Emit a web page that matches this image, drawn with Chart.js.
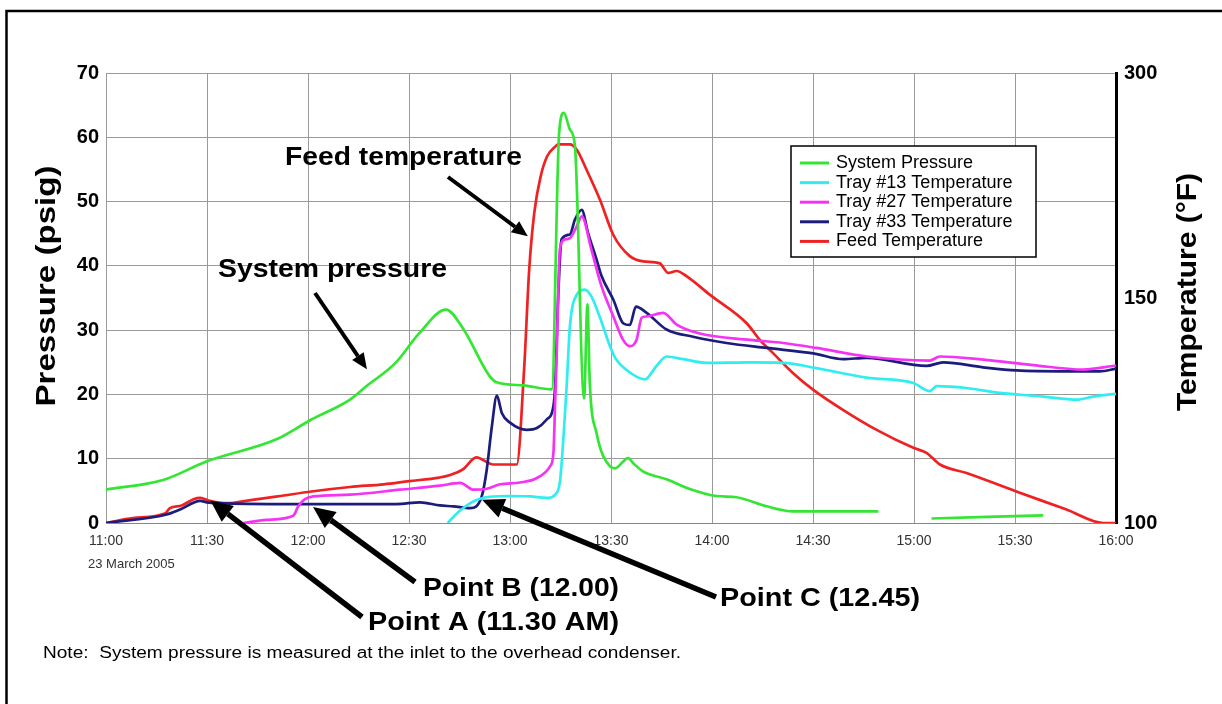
<!DOCTYPE html>
<html>
<head>
<meta charset="utf-8">
<script src="https://cdn.jsdelivr.net/npm/chart.js@4.4.1/dist/chart.umd.min.js"></script>
<style>
  body { margin: 0; background: #fff; }
  #wrap { width: 1222px; height: 704px; }
</style>
</head>
<body>
<div id="wrap"><canvas id="myChart" width="1222" height="704"></canvas></div>
<script>
// minutes after 11:00, 23 March 2005
const timeLabels = ['11:00', '11:30', '12:00', '12:30', '13:00', '13:30', '14:00', '14:30', '15:00', '15:30', '16:00']
const tempTicks = [100, 150, 300]

// System pressure, psig
const pressureMin = [0, 17, 30, 51, 61, 72.5, 77.4, 86, 93, 101, 106, 114, 116, 124, 132.4, 134.6, 136, 137.8, 139.3, 142, 143, 143.7, 145.7, 149.7, 151.2, 155.1, 156.6, 159.6, 166.5, 173.4, 181.3, 187.3, 196.2, 204.1, 229.4, 237, 245.2, 278.4]
const pressurePsig = [5.2, 6.7, 9.6, 13.1, 16.1, 19.2, 21.3, 24.9, 29.5, 33.2, 30.3, 22.8, 21.9, 21.4, 20.8, 60.7, 63.8, 61.2, 58.6, 19.4, 34.0, 21.8, 14.0, 8.8, 8.5, 10.1, 9.3, 8.0, 6.8, 5.3, 4.2, 4.0, 2.6, 1.8, 1.8, null, 0.7, 1.2]

// Tray #13 temperature, F
const tray13Min = [101.5, 104.2, 108.2, 112.1, 119, 126, 130.9, 133.9, 134.9, 135.9, 136.8, 137.8, 139.8, 142.2, 144.2, 146.7, 149.7, 151.5, 154.6, 160.1, 163.5, 166.5, 171.5, 178.4, 191.3, 201.2, 211, 225.9, 239.8, 244.7, 246.7, 255.6, 265.5, 278.4, 288.3, 293.2, 300]
const tray13F = [100, 102.1, 104.4, 105.6, 106.0, 105.9, 105.6, 106.7, 109.6, 119.3, 130.0, 143.7, 152.1, 155.6, 150.9, 145.7, 139.3, 136.4, 134.0, 131.9, 134.9, 137.0, 136.4, 135.6, 135.7, 135.6, 134.4, 132.3, 131.1, 129.3, 130.4, 130.0, 128.9, 128.1, 127.4, 128.1, 128.7]

// Tray #27 temperature, F
const tray27Min = [40.8, 47.7, 55.6, 57.1, 59.1, 61.6, 72.5, 87.3, 99.2, 105.2, 109.2, 113.1, 117.1, 123, 128, 131.9, 132.9, 133.4, 133.9, 134.8, 136.3, 137.8, 139.8, 141.3, 144.2, 147.2, 150.7, 153.6, 155.6, 157.6, 159.1, 160.6, 165.5, 169.5, 176.4, 191.3, 201.2, 211, 225.9, 244.7, 247.7, 260.5, 275.4, 290.2, 300]
const tray27F = [100, 100.7, 101.6, 103.7, 105.3, 105.9, 106.3, 107.4, 108.3, 108.9, 107.4, 107.6, 108.6, 109.0, 110.0, 112.6, 115.6, 126.7, 138.6, 182.1, 189.0, 189.9, 197.6, 204.4, 182.1, 157.7, 145.9, 140.7, 139.3, 140.7, 145.6, 145.9, 146.7, 144.1, 142.1, 140.7, 140.0, 138.9, 137.0, 136.1, 137.0, 136.3, 135.1, 134.1, 135.0]

// Tray #33 temperature, F
const tray33Min = [0, 18, 22, 28, 30, 38, 57.6, 86.3, 93.3, 99.2, 103.2, 108.2, 111.6, 113.1, 114.6, 116.1, 117.6, 120, 125, 128, 130.9, 132.9, 133.4, 134.3, 135.3, 137.8, 139.3, 141.3, 143.2, 145.7, 147.2, 150.7, 153.6, 155.6, 157.4, 160.6, 166.5, 174.4, 184.3, 196.2, 210.1, 219, 225.9, 243.7, 248.7, 260.5, 270.4, 285.3, 295.2, 300]
const tray33F = [100, 101.9, 103.0, 104.9, 104.6, 104.3, 104.2, 104.2, 104.6, 103.9, 103.7, 103.3, 105.9, 111.9, 121.4, 128.3, 124.4, 122.3, 120.7, 121.1, 123.0, 126.0, 130.4, 150.0, 189.0, 192.4, 202.3, 208.7, 193.3, 175.7, 164.6, 149.6, 144.4, 144.0, 148.1, 146.7, 143.0, 141.4, 140.0, 138.9, 137.7, 136.4, 136.7, 134.9, 135.7, 134.6, 133.9, 133.7, 133.7, 134.3]

// Feed temperature, F
const feedMin = [0, 8, 17.5, 19, 22.5, 26, 28, 30.5, 36, 43, 51, 61, 72.5, 82.5, 90, 99, 102, 106, 110, 115, 122, 124.2, 125.7, 127.2, 129.1, 131, 133.5, 134.3, 137.8, 139.8, 142.7, 146.7, 150.7, 155.6, 159.6, 164.5, 167, 169.5, 172.4, 179.4, 190.3, 194.2, 198.2, 204.1, 210.1, 219, 228.9, 239.8, 243.7, 247.7, 255.6, 270.4, 285.3, 296.2, 300]
const feedF = [100, 101.1, 102.1, 103.3, 103.9, 105.3, 105.6, 105.0, 104.4, 105.1, 105.9, 107.0, 108.0, 108.6, 109.3, 110.1, 110.6, 111.9, 114.6, 113.0, 113.0, 134.3, 168.9, 206.6, 231.0, 244.3, 251.1, 252.4, 252.4, 249.0, 235.7, 215.6, 192.0, 177.9, 174.4, 173.1, 166.7, 168.0, 164.6, 152.1, 144.4, 140.7, 137.7, 133.3, 129.6, 125.1, 120.7, 116.7, 115.6, 113.0, 111.1, 107.0, 103.0, 100, 100]

// the temperature axis of the original is not linear: 100-150 takes the lower half, 150-300 the upper half
function toAxis(f) {
    if (f <= 150) return (f - 100) * 35 / 50
    return 35 + (f - 150) * 35 / 150
}

function pts(xs, ys, conv) {
    return xs.map((x, i) => ({ x: x, y: ys[i] == null ? null : conv(ys[i]) }))
}
const same = v => v

let font = '"Liberation Sans", Arial, sans-serif'

function fitText(ctx, txt, cx, cy, w, f, rot) {
    ctx.save()
    ctx.translate(cx, cy)
    ctx.rotate(rot || 0)
    ctx.font = f
    let m = ctx.measureText(txt).width
    ctx.scale(w / m, 1)
    ctx.textAlign = 'center'
    ctx.textBaseline = 'middle'
    ctx.fillStyle = '#000'
    ctx.fillText(txt, 0, 0)
    ctx.restore()
}

function arrow(ctx, x1, y1, x2, y2, lw, hl, hw) {
    let a = Math.atan2(y2 - y1, x2 - x1)
    let bx = x2 - Math.cos(a) * hl, by = y2 - Math.sin(a) * hl
    ctx.save()
    ctx.strokeStyle = '#000'
    ctx.fillStyle = '#000'
    ctx.lineWidth = lw
    ctx.beginPath()
    ctx.moveTo(x1, y1)
    ctx.lineTo(bx, by)
    ctx.stroke()
    ctx.beginPath()
    ctx.moveTo(x2, y2)
    ctx.lineTo(bx + Math.sin(a) * hw, by - Math.cos(a) * hw)
    ctx.lineTo(bx - Math.sin(a) * hw, by + Math.cos(a) * hw)
    ctx.closePath()
    ctx.fill()
    ctx.restore()
}

const extras = {
    id: 'extras',
    afterDraw(chart) {
        let ctx = chart.ctx
        let xs = chart.scales.x, ys = chart.scales.y

        // frame (top and left only, as in the scan)
        ctx.save()
        ctx.strokeStyle = '#000'
        ctx.lineWidth = 2.5
        ctx.beginPath()
        ctx.moveTo(1222, 11)
        ctx.lineTo(6.5, 11)
        ctx.lineTo(6.5, 704)
        ctx.stroke()
        ctx.restore()

        // axis titles
        fitText(ctx, 'Pressure (psig)', 48, 286, 241, 'bold 27px ' + font, -Math.PI / 2)
        fitText(ctx, 'Temperature (°F)', 1189, 292, 238, 'bold 27px ' + font, -Math.PI / 2)

        // date under the time axis
        ctx.save()
        ctx.font = '13px ' + font
        ctx.fillStyle = '#333'
        ctx.textBaseline = 'middle'
        ctx.fillText('23 March 2005', 88, 564)
        ctx.restore()

        // legend
        ctx.save()
        ctx.fillStyle = '#fff'
        ctx.fillRect(791, 146, 245, 111)
        ctx.strokeStyle = '#000'
        ctx.lineWidth = 1.5
        ctx.strokeRect(791, 146, 245, 111)
        ctx.font = '18px ' + font
        ctx.textBaseline = 'middle'
        chart.data.datasets.forEach((d, i) => {
            let y = 163 + i * 19.6
            ctx.strokeStyle = d.borderColor
            ctx.lineWidth = 3
            ctx.beginPath()
            ctx.moveTo(800, y)
            ctx.lineTo(829, y)
            ctx.stroke()
            ctx.fillStyle = '#000'
            ctx.fillText(d.label, 836, y)
        })
        ctx.restore()

        // callouts
        let bold = 'bold 25px ' + font
        fitText(ctx, 'Feed temperature', 285 + 237 / 2, 158, 237, bold)
        arrow(ctx, 448, 177, xs.getPixelForValue(125.3), ys.getPixelForValue(44.6), 4, 16, 7)
        fitText(ctx, 'System pressure', 218 + 229 / 2, 270, 229, bold)
        arrow(ctx, 315, 293, xs.getPixelForValue(77.5), ys.getPixelForValue(23.9), 4, 16, 7)

        fitText(ctx, 'Point B (12.00)', 423 + 196 / 2, 589, 196, bold)
        arrow(ctx, 415, 582, xs.getPixelForValue(61.5), ys.getPixelForValue(2.5), 5.5, 22, 10)
        fitText(ctx, 'Point C (12.45)', 720 + 200 / 2, 599, 200, bold)
        arrow(ctx, 716, 597, xs.getPixelForValue(111.7), ys.getPixelForValue(3.6), 5.5, 22, 10)
        fitText(ctx, 'Point A (11.30 AM)', 368 + 251 / 2, 623, 251, bold)
        arrow(ctx, 362, 617, xs.getPixelForValue(31), ys.getPixelForValue(3.5), 5.5, 22, 10)

        fitText(ctx, 'Note:  System pressure is measured at the inlet to the overhead condenser.', 43 + 638 / 2, 654, 638, '16px ' + font)
    }
}

let lineStyle = { borderWidth: 2.7, pointRadius: 0, fill: false, cubicInterpolationMode: 'monotone', spanGaps: false }

var myChart = new Chart('myChart', {
    type: 'line',
    data: {
        datasets: [{
            ...lineStyle,
            label: 'System Pressure',
            data: pts(pressureMin, pressurePsig, same),
            borderColor: '#33e633',
            yAxisID: 'y'
        }, {
            ...lineStyle,
            label: 'Tray #13 Temperature',
            data: pts(tray13Min, tray13F, toAxis),
            borderColor: '#30eef0',
            yAxisID: 'y2'
        }, {
            ...lineStyle,
            label: 'Tray #27 Temperature',
            data: pts(tray27Min, tray27F, toAxis),
            borderColor: '#f533f5',
            yAxisID: 'y2'
        }, {
            ...lineStyle,
            label: 'Tray #33 Temperature',
            data: pts(tray33Min, tray33F, toAxis),
            borderColor: '#1c1c7c',
            yAxisID: 'y2'
        }, {
            ...lineStyle,
            label: 'Feed Temperature',
            data: pts(feedMin, feedF, toAxis),
            borderColor: '#ee2222',
            yAxisID: 'y2'
        }]
    },
    options: {
        responsive: false,
        animation: false,
        layout: { padding: { top: 73, left: 0, right: 0, bottom: 0 } },
        plugins: { legend: { display: false }, tooltip: { enabled: false } },
        scales: {
            x: {
                type: 'linear',
                min: 0,
                max: 300,
                afterFit: s => { s.height = 181 },
                grid: { color: '#9a9a9a', lineWidth: 1, drawTicks: false },
                border: { color: '#888' },
                ticks: {
                    stepSize: 30,
                    padding: 10,
                    maxRotation: 0,
                    color: '#333',
                    font: { family: font, size: 14 },
                    callback: v => timeLabels[v / 30]
                }
            },
            y: {
                position: 'left',
                min: 0,
                max: 70,
                afterFit: s => { s.width = 106 },
                grid: { color: '#9a9a9a', lineWidth: 1, drawTicks: false },
                border: { color: '#9a9a9a' },
                ticks: { stepSize: 10, padding: 7, color: '#000', font: { family: font, size: 20, weight: 'bold' } }
            },
            y2: {
                position: 'right',
                min: 0,
                max: 70,
                afterFit: s => { s.width = 106 },
                afterBuildTicks: s => { s.ticks = tempTicks.map(f => ({ value: toAxis(f) })) },
                grid: { drawOnChartArea: false, drawTicks: false },
                border: { color: '#000', width: 3 },
                ticks: {
                    padding: 8,
                    color: '#000',
                    font: { family: font, size: 20, weight: 'bold' },
                    callback: v => tempTicks.find(f => Math.abs(toAxis(f) - v) < 0.01)
                }
            }
        }
    },
    plugins: [extras]
})
</script>
</body>
</html>
